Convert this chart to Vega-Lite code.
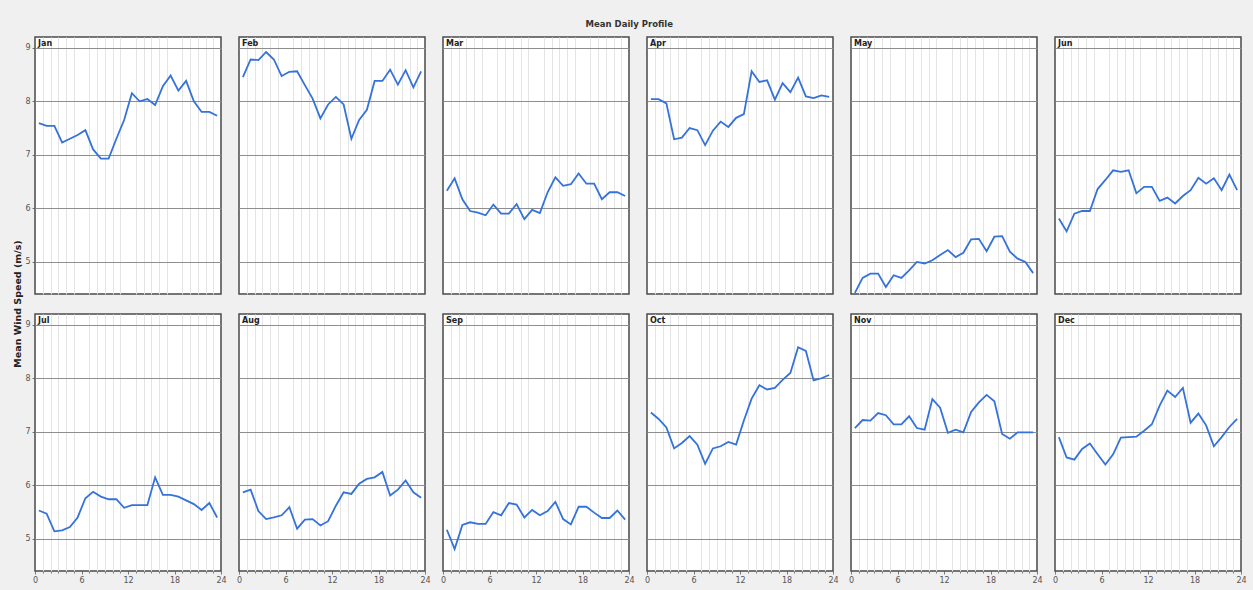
{
  "$schema": "https://vega.github.io/schema/vega-lite/v6.json",
  "background": "#f0f0f0",
  "padding": {"left": 12, "top": 19, "right": 6, "bottom": 0},
  "title": {
    "text": "Mean Daily Profile",
    "anchor": "middle",
    "font": "DejaVu Sans",
    "fontSize": 8.5,
    "fontWeight": "bold",
    "color": "#333333",
    "offset": 8
  },
  "datasets": {
    "months": [
      {"month": "Jan", "row": 1, "col": 1}, {"month": "Feb", "row": 1, "col": 2},
      {"month": "Mar", "row": 1, "col": 3}, {"month": "Apr", "row": 1, "col": 4},
      {"month": "May", "row": 1, "col": 5}, {"month": "Jun", "row": 1, "col": 6},
      {"month": "Jul", "row": 2, "col": 1}, {"month": "Aug", "row": 2, "col": 2},
      {"month": "Sep", "row": 2, "col": 3}, {"month": "Oct", "row": 2, "col": 4},
      {"month": "Nov", "row": 2, "col": 5}, {"month": "Dec", "row": 2, "col": 6}
    ]
  },
  "data": {
    "values": [
      {"month": "Jan", "hour": 0.5, "speed": 7.59}, {"month": "Jan", "hour": 1.5, "speed": 7.54}, {"month": "Jan", "hour": 2.5, "speed": 7.54}, {"month": "Jan", "hour": 3.5, "speed": 7.23},
      {"month": "Jan", "hour": 4.5, "speed": 7.3}, {"month": "Jan", "hour": 5.5, "speed": 7.37}, {"month": "Jan", "hour": 6.5, "speed": 7.46}, {"month": "Jan", "hour": 7.5, "speed": 7.1},
      {"month": "Jan", "hour": 8.5, "speed": 6.93}, {"month": "Jan", "hour": 9.5, "speed": 6.93}, {"month": "Jan", "hour": 10.5, "speed": 7.3}, {"month": "Jan", "hour": 11.5, "speed": 7.65},
      {"month": "Jan", "hour": 12.5, "speed": 8.15}, {"month": "Jan", "hour": 13.5, "speed": 8.0}, {"month": "Jan", "hour": 14.5, "speed": 8.04}, {"month": "Jan", "hour": 15.5, "speed": 7.93},
      {"month": "Jan", "hour": 16.5, "speed": 8.28}, {"month": "Jan", "hour": 17.5, "speed": 8.48}, {"month": "Jan", "hour": 18.5, "speed": 8.2}, {"month": "Jan", "hour": 19.5, "speed": 8.38},
      {"month": "Jan", "hour": 20.5, "speed": 8.0}, {"month": "Jan", "hour": 21.5, "speed": 7.8}, {"month": "Jan", "hour": 22.5, "speed": 7.8}, {"month": "Jan", "hour": 23.5, "speed": 7.73},

      {"month": "Feb", "hour": 0.5, "speed": 8.45}, {"month": "Feb", "hour": 1.5, "speed": 8.78}, {"month": "Feb", "hour": 2.5, "speed": 8.77}, {"month": "Feb", "hour": 3.5, "speed": 8.92},
      {"month": "Feb", "hour": 4.5, "speed": 8.78}, {"month": "Feb", "hour": 5.5, "speed": 8.47}, {"month": "Feb", "hour": 6.5, "speed": 8.55}, {"month": "Feb", "hour": 7.5, "speed": 8.56},
      {"month": "Feb", "hour": 8.5, "speed": 8.3}, {"month": "Feb", "hour": 9.5, "speed": 8.05}, {"month": "Feb", "hour": 10.5, "speed": 7.68}, {"month": "Feb", "hour": 11.5, "speed": 7.94},
      {"month": "Feb", "hour": 12.5, "speed": 8.08}, {"month": "Feb", "hour": 13.5, "speed": 7.94}, {"month": "Feb", "hour": 14.5, "speed": 7.3}, {"month": "Feb", "hour": 15.5, "speed": 7.65},
      {"month": "Feb", "hour": 16.5, "speed": 7.84}, {"month": "Feb", "hour": 17.5, "speed": 8.38}, {"month": "Feb", "hour": 18.5, "speed": 8.38}, {"month": "Feb", "hour": 19.5, "speed": 8.59},
      {"month": "Feb", "hour": 20.5, "speed": 8.31}, {"month": "Feb", "hour": 21.5, "speed": 8.58}, {"month": "Feb", "hour": 22.5, "speed": 8.26}, {"month": "Feb", "hour": 23.5, "speed": 8.56},

      {"month": "Mar", "hour": 0.5, "speed": 6.33}, {"month": "Mar", "hour": 1.5, "speed": 6.56}, {"month": "Mar", "hour": 2.5, "speed": 6.17}, {"month": "Mar", "hour": 3.5, "speed": 5.95},
      {"month": "Mar", "hour": 4.5, "speed": 5.92}, {"month": "Mar", "hour": 5.5, "speed": 5.87}, {"month": "Mar", "hour": 6.5, "speed": 6.07}, {"month": "Mar", "hour": 7.5, "speed": 5.9},
      {"month": "Mar", "hour": 8.5, "speed": 5.9}, {"month": "Mar", "hour": 9.5, "speed": 6.08}, {"month": "Mar", "hour": 10.5, "speed": 5.8}, {"month": "Mar", "hour": 11.5, "speed": 5.97},
      {"month": "Mar", "hour": 12.5, "speed": 5.91}, {"month": "Mar", "hour": 13.5, "speed": 6.3}, {"month": "Mar", "hour": 14.5, "speed": 6.58}, {"month": "Mar", "hour": 15.5, "speed": 6.42},
      {"month": "Mar", "hour": 16.5, "speed": 6.45}, {"month": "Mar", "hour": 17.5, "speed": 6.65}, {"month": "Mar", "hour": 18.5, "speed": 6.46}, {"month": "Mar", "hour": 19.5, "speed": 6.46},
      {"month": "Mar", "hour": 20.5, "speed": 6.17}, {"month": "Mar", "hour": 21.5, "speed": 6.3}, {"month": "Mar", "hour": 22.5, "speed": 6.3}, {"month": "Mar", "hour": 23.5, "speed": 6.23},

      {"month": "Apr", "hour": 0.5, "speed": 8.04}, {"month": "Apr", "hour": 1.5, "speed": 8.04}, {"month": "Apr", "hour": 2.5, "speed": 7.96}, {"month": "Apr", "hour": 3.5, "speed": 7.29},
      {"month": "Apr", "hour": 4.5, "speed": 7.32}, {"month": "Apr", "hour": 5.5, "speed": 7.5}, {"month": "Apr", "hour": 6.5, "speed": 7.46}, {"month": "Apr", "hour": 7.5, "speed": 7.18},
      {"month": "Apr", "hour": 8.5, "speed": 7.45}, {"month": "Apr", "hour": 9.5, "speed": 7.62}, {"month": "Apr", "hour": 10.5, "speed": 7.52}, {"month": "Apr", "hour": 11.5, "speed": 7.69},
      {"month": "Apr", "hour": 12.5, "speed": 7.76}, {"month": "Apr", "hour": 13.5, "speed": 8.56}, {"month": "Apr", "hour": 14.5, "speed": 8.36}, {"month": "Apr", "hour": 15.5, "speed": 8.39},
      {"month": "Apr", "hour": 16.5, "speed": 8.03}, {"month": "Apr", "hour": 17.5, "speed": 8.34}, {"month": "Apr", "hour": 18.5, "speed": 8.17}, {"month": "Apr", "hour": 19.5, "speed": 8.44},
      {"month": "Apr", "hour": 20.5, "speed": 8.09}, {"month": "Apr", "hour": 21.5, "speed": 8.06}, {"month": "Apr", "hour": 22.5, "speed": 8.11}, {"month": "Apr", "hour": 23.5, "speed": 8.08},

      {"month": "May", "hour": 0.5, "speed": 4.42}, {"month": "May", "hour": 1.5, "speed": 4.7}, {"month": "May", "hour": 2.5, "speed": 4.78}, {"month": "May", "hour": 3.5, "speed": 4.78},
      {"month": "May", "hour": 4.5, "speed": 4.53}, {"month": "May", "hour": 5.5, "speed": 4.75}, {"month": "May", "hour": 6.5, "speed": 4.7}, {"month": "May", "hour": 7.5, "speed": 4.84},
      {"month": "May", "hour": 8.5, "speed": 5.0}, {"month": "May", "hour": 9.5, "speed": 4.97}, {"month": "May", "hour": 10.5, "speed": 5.03}, {"month": "May", "hour": 11.5, "speed": 5.13},
      {"month": "May", "hour": 12.5, "speed": 5.22}, {"month": "May", "hour": 13.5, "speed": 5.09}, {"month": "May", "hour": 14.5, "speed": 5.17}, {"month": "May", "hour": 15.5, "speed": 5.42},
      {"month": "May", "hour": 16.5, "speed": 5.43}, {"month": "May", "hour": 17.5, "speed": 5.2}, {"month": "May", "hour": 18.5, "speed": 5.47}, {"month": "May", "hour": 19.5, "speed": 5.48},
      {"month": "May", "hour": 20.5, "speed": 5.19}, {"month": "May", "hour": 21.5, "speed": 5.06}, {"month": "May", "hour": 22.5, "speed": 5.0}, {"month": "May", "hour": 23.5, "speed": 4.79},

      {"month": "Jun", "hour": 0.5, "speed": 5.81}, {"month": "Jun", "hour": 1.5, "speed": 5.57}, {"month": "Jun", "hour": 2.5, "speed": 5.9}, {"month": "Jun", "hour": 3.5, "speed": 5.95},
      {"month": "Jun", "hour": 4.5, "speed": 5.95}, {"month": "Jun", "hour": 5.5, "speed": 6.36}, {"month": "Jun", "hour": 6.5, "speed": 6.53}, {"month": "Jun", "hour": 7.5, "speed": 6.71},
      {"month": "Jun", "hour": 8.5, "speed": 6.68}, {"month": "Jun", "hour": 9.5, "speed": 6.71}, {"month": "Jun", "hour": 10.5, "speed": 6.28}, {"month": "Jun", "hour": 11.5, "speed": 6.4},
      {"month": "Jun", "hour": 12.5, "speed": 6.4}, {"month": "Jun", "hour": 13.5, "speed": 6.14}, {"month": "Jun", "hour": 14.5, "speed": 6.2}, {"month": "Jun", "hour": 15.5, "speed": 6.09},
      {"month": "Jun", "hour": 16.5, "speed": 6.23}, {"month": "Jun", "hour": 17.5, "speed": 6.34}, {"month": "Jun", "hour": 18.5, "speed": 6.57}, {"month": "Jun", "hour": 19.5, "speed": 6.46},
      {"month": "Jun", "hour": 20.5, "speed": 6.56}, {"month": "Jun", "hour": 21.5, "speed": 6.34}, {"month": "Jun", "hour": 22.5, "speed": 6.63}, {"month": "Jun", "hour": 23.5, "speed": 6.34},

      {"month": "Jul", "hour": 0.5, "speed": 5.53}, {"month": "Jul", "hour": 1.5, "speed": 5.47}, {"month": "Jul", "hour": 2.5, "speed": 5.14}, {"month": "Jul", "hour": 3.5, "speed": 5.16},
      {"month": "Jul", "hour": 4.5, "speed": 5.22}, {"month": "Jul", "hour": 5.5, "speed": 5.4}, {"month": "Jul", "hour": 6.5, "speed": 5.76}, {"month": "Jul", "hour": 7.5, "speed": 5.88},
      {"month": "Jul", "hour": 8.5, "speed": 5.79}, {"month": "Jul", "hour": 9.5, "speed": 5.74}, {"month": "Jul", "hour": 10.5, "speed": 5.74}, {"month": "Jul", "hour": 11.5, "speed": 5.58},
      {"month": "Jul", "hour": 12.5, "speed": 5.63}, {"month": "Jul", "hour": 13.5, "speed": 5.63}, {"month": "Jul", "hour": 14.5, "speed": 5.63}, {"month": "Jul", "hour": 15.5, "speed": 6.15},
      {"month": "Jul", "hour": 16.5, "speed": 5.82}, {"month": "Jul", "hour": 17.5, "speed": 5.82}, {"month": "Jul", "hour": 18.5, "speed": 5.79}, {"month": "Jul", "hour": 19.5, "speed": 5.72},
      {"month": "Jul", "hour": 20.5, "speed": 5.65}, {"month": "Jul", "hour": 21.5, "speed": 5.54}, {"month": "Jul", "hour": 22.5, "speed": 5.67}, {"month": "Jul", "hour": 23.5, "speed": 5.4},

      {"month": "Aug", "hour": 0.5, "speed": 5.87}, {"month": "Aug", "hour": 1.5, "speed": 5.92}, {"month": "Aug", "hour": 2.5, "speed": 5.52}, {"month": "Aug", "hour": 3.5, "speed": 5.37},
      {"month": "Aug", "hour": 4.5, "speed": 5.4}, {"month": "Aug", "hour": 5.5, "speed": 5.44}, {"month": "Aug", "hour": 6.5, "speed": 5.59}, {"month": "Aug", "hour": 7.5, "speed": 5.19},
      {"month": "Aug", "hour": 8.5, "speed": 5.36}, {"month": "Aug", "hour": 9.5, "speed": 5.37}, {"month": "Aug", "hour": 10.5, "speed": 5.25}, {"month": "Aug", "hour": 11.5, "speed": 5.33},
      {"month": "Aug", "hour": 12.5, "speed": 5.62}, {"month": "Aug", "hour": 13.5, "speed": 5.87}, {"month": "Aug", "hour": 14.5, "speed": 5.84}, {"month": "Aug", "hour": 15.5, "speed": 6.03},
      {"month": "Aug", "hour": 16.5, "speed": 6.12}, {"month": "Aug", "hour": 17.5, "speed": 6.15}, {"month": "Aug", "hour": 18.5, "speed": 6.25}, {"month": "Aug", "hour": 19.5, "speed": 5.81},
      {"month": "Aug", "hour": 20.5, "speed": 5.92}, {"month": "Aug", "hour": 21.5, "speed": 6.09}, {"month": "Aug", "hour": 22.5, "speed": 5.87}, {"month": "Aug", "hour": 23.5, "speed": 5.77},

      {"month": "Sep", "hour": 0.5, "speed": 5.17}, {"month": "Sep", "hour": 1.5, "speed": 4.81}, {"month": "Sep", "hour": 2.5, "speed": 5.26}, {"month": "Sep", "hour": 3.5, "speed": 5.31},
      {"month": "Sep", "hour": 4.5, "speed": 5.28}, {"month": "Sep", "hour": 5.5, "speed": 5.28}, {"month": "Sep", "hour": 6.5, "speed": 5.5}, {"month": "Sep", "hour": 7.5, "speed": 5.44},
      {"month": "Sep", "hour": 8.5, "speed": 5.67}, {"month": "Sep", "hour": 9.5, "speed": 5.64}, {"month": "Sep", "hour": 10.5, "speed": 5.4}, {"month": "Sep", "hour": 11.5, "speed": 5.54},
      {"month": "Sep", "hour": 12.5, "speed": 5.44}, {"month": "Sep", "hour": 13.5, "speed": 5.52}, {"month": "Sep", "hour": 14.5, "speed": 5.69}, {"month": "Sep", "hour": 15.5, "speed": 5.37},
      {"month": "Sep", "hour": 16.5, "speed": 5.27}, {"month": "Sep", "hour": 17.5, "speed": 5.6}, {"month": "Sep", "hour": 18.5, "speed": 5.6}, {"month": "Sep", "hour": 19.5, "speed": 5.49},
      {"month": "Sep", "hour": 20.5, "speed": 5.39}, {"month": "Sep", "hour": 21.5, "speed": 5.39}, {"month": "Sep", "hour": 22.5, "speed": 5.53}, {"month": "Sep", "hour": 23.5, "speed": 5.36},

      {"month": "Oct", "hour": 0.5, "speed": 7.36}, {"month": "Oct", "hour": 1.5, "speed": 7.24}, {"month": "Oct", "hour": 2.5, "speed": 7.08}, {"month": "Oct", "hour": 3.5, "speed": 6.69},
      {"month": "Oct", "hour": 4.5, "speed": 6.79}, {"month": "Oct", "hour": 5.5, "speed": 6.92}, {"month": "Oct", "hour": 6.5, "speed": 6.76}, {"month": "Oct", "hour": 7.5, "speed": 6.4},
      {"month": "Oct", "hour": 8.5, "speed": 6.69}, {"month": "Oct", "hour": 9.5, "speed": 6.73}, {"month": "Oct", "hour": 10.5, "speed": 6.81}, {"month": "Oct", "hour": 11.5, "speed": 6.76},
      {"month": "Oct", "hour": 12.5, "speed": 7.21}, {"month": "Oct", "hour": 13.5, "speed": 7.62}, {"month": "Oct", "hour": 14.5, "speed": 7.87}, {"month": "Oct", "hour": 15.5, "speed": 7.79},
      {"month": "Oct", "hour": 16.5, "speed": 7.82}, {"month": "Oct", "hour": 17.5, "speed": 7.97}, {"month": "Oct", "hour": 18.5, "speed": 8.1}, {"month": "Oct", "hour": 19.5, "speed": 8.58},
      {"month": "Oct", "hour": 20.5, "speed": 8.51}, {"month": "Oct", "hour": 21.5, "speed": 7.96}, {"month": "Oct", "hour": 22.5, "speed": 8.0}, {"month": "Oct", "hour": 23.5, "speed": 8.06},

      {"month": "Nov", "hour": 0.5, "speed": 7.07}, {"month": "Nov", "hour": 1.5, "speed": 7.22}, {"month": "Nov", "hour": 2.5, "speed": 7.21}, {"month": "Nov", "hour": 3.5, "speed": 7.35},
      {"month": "Nov", "hour": 4.5, "speed": 7.31}, {"month": "Nov", "hour": 5.5, "speed": 7.14}, {"month": "Nov", "hour": 6.5, "speed": 7.14}, {"month": "Nov", "hour": 7.5, "speed": 7.29},
      {"month": "Nov", "hour": 8.5, "speed": 7.07}, {"month": "Nov", "hour": 9.5, "speed": 7.04}, {"month": "Nov", "hour": 10.5, "speed": 7.61}, {"month": "Nov", "hour": 11.5, "speed": 7.45},
      {"month": "Nov", "hour": 12.5, "speed": 6.98}, {"month": "Nov", "hour": 13.5, "speed": 7.04}, {"month": "Nov", "hour": 14.5, "speed": 6.99}, {"month": "Nov", "hour": 15.5, "speed": 7.37},
      {"month": "Nov", "hour": 16.5, "speed": 7.55}, {"month": "Nov", "hour": 17.5, "speed": 7.69}, {"month": "Nov", "hour": 18.5, "speed": 7.57}, {"month": "Nov", "hour": 19.5, "speed": 6.96},
      {"month": "Nov", "hour": 20.5, "speed": 6.87}, {"month": "Nov", "hour": 21.5, "speed": 6.99}, {"month": "Nov", "hour": 22.5, "speed": 6.99}, {"month": "Nov", "hour": 23.5, "speed": 6.99},

      {"month": "Dec", "hour": 0.5, "speed": 6.9}, {"month": "Dec", "hour": 1.5, "speed": 6.52}, {"month": "Dec", "hour": 2.5, "speed": 6.48}, {"month": "Dec", "hour": 3.5, "speed": 6.68},
      {"month": "Dec", "hour": 4.5, "speed": 6.78}, {"month": "Dec", "hour": 5.5, "speed": 6.58}, {"month": "Dec", "hour": 6.5, "speed": 6.39}, {"month": "Dec", "hour": 7.5, "speed": 6.58},
      {"month": "Dec", "hour": 8.5, "speed": 6.89}, {"month": "Dec", "hour": 9.5, "speed": 6.9}, {"month": "Dec", "hour": 10.5, "speed": 6.91}, {"month": "Dec", "hour": 11.5, "speed": 7.02},
      {"month": "Dec", "hour": 12.5, "speed": 7.14}, {"month": "Dec", "hour": 13.5, "speed": 7.49}, {"month": "Dec", "hour": 14.5, "speed": 7.77}, {"month": "Dec", "hour": 15.5, "speed": 7.65},
      {"month": "Dec", "hour": 16.5, "speed": 7.82}, {"month": "Dec", "hour": 17.5, "speed": 7.17}, {"month": "Dec", "hour": 18.5, "speed": 7.34}, {"month": "Dec", "hour": 19.5, "speed": 7.12},
      {"month": "Dec", "hour": 20.5, "speed": 6.73}, {"month": "Dec", "hour": 21.5, "speed": 6.9}, {"month": "Dec", "hour": 22.5, "speed": 7.09}, {"month": "Dec", "hour": 23.5, "speed": 7.24}
    ]
  },
  "transform": [
    {"lookup": "month", "from": {"data": {"name": "months"}, "key": "month", "fields": ["row", "col"]}}
  ],
  "facet": {
    "row": {
      "field": "row", "type": "ordinal", "title": "Mean Wind Speed (m/s)",
      "header": {"labels": false, "titleOrient": "left", "titleFont": "DejaVu Sans", "titleFontSize": 9.5, "titleFontWeight": "bold", "titleColor": "#222222", "titlePadding": -8}
    },
    "column": {
      "field": "col", "type": "ordinal", "title": "Hour of Day",
      "header": {"labels": false, "titleOrient": "bottom", "titleFont": "DejaVu Sans", "titleFontSize": 8, "titleFontWeight": "bold", "titleColor": "#222222", "titlePadding": 4}
    }
  },
  "spacing": {"row": 20, "column": 18},
  "bounds": "flush",
  "spec": {
    "width": 186,
    "height": 257,
    "resolve": {"axis": {"x": "independent"}},
    "layer": [
      {
        "mark": {"type": "line", "color": "#3572d9", "strokeWidth": 1.8, "clip": true},
        "encoding": {
          "x": {
            "field": "hour", "type": "quantitative",
            "scale": {"domain": [0, 24], "nice": false},
            "axis": {
              "orient": "bottom",
              "title": null,
              "values": [1, 2, 3, 4, 5, 7, 8, 9, 10, 11, 13, 14, 15, 16, 17, 19, 20, 21, 22, 23],
              "labels": false,
              "tickSize": 2,
              "gridColor": "#e4e4e4"
            }
          },
          "y": {
            "field": "speed", "type": "quantitative",
            "scale": {"domain": [4.4, 9.2], "nice": false, "zero": false},
            "axis": {"title": null, "values": [5, 6, 7, 8, 9], "format": "d", "gridColor": "#8e8e8e"}
          }
        }
      },
      {
        "transform": [{"aggregate": [{"op": "count", "as": "n"}], "groupby": ["month"]}],
        "mark": {"type": "text", "align": "left", "baseline": "top", "dx": 3, "dy": 3, "font": "DejaVu Sans", "fontSize": 8, "fontWeight": "bold", "color": "#222222"},
        "encoding": {
          "x": {
            "datum": 0, "type": "quantitative",
            "axis": {
              "orient": "bottom",
              "title": null,
              "values": [0, 6, 12, 18, 24],
              "gridColor": "#9a9a9a"
            }
          },
          "y": {
            "datum": 9.2, "type": "quantitative",
            "axis": {"title": null, "values": [5, 6, 7, 8, 9], "format": "d", "gridColor": "#8e8e8e"}
          },
          "text": {"field": "month"}
        }
      }
    ]
  },
  "config": {
    "view": {"stroke": "#4a4a4a", "strokeWidth": 1.5, "fill": "white"},
    "axis": {
      "domain": false,
      "grid": true,
      "gridWidth": 1,
      "ticks": true,
      "tickColor": "#777777",
      "tickSize": 3,
      "labelFont": "DejaVu Sans",
      "labelFontSize": 8,
      "labelColor": "#555555",
      "labelPadding": 2,
      "labelFlush": false,
      "labelOverlap": false
    }
  }
}
